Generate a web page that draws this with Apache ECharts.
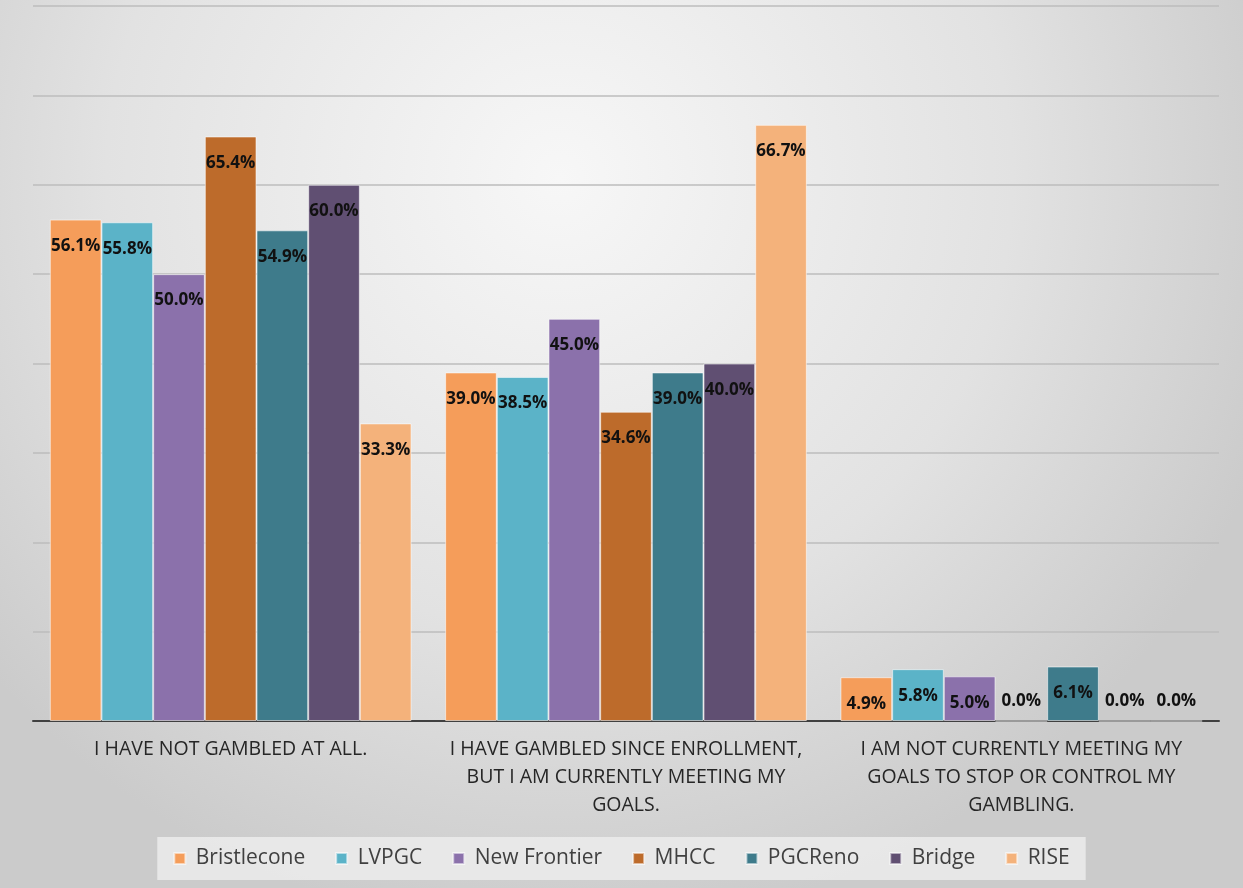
<!DOCTYPE html>
<html>
<head>
<meta charset="utf-8">
<script src="https://cdn.jsdelivr.net/npm/echarts@6/dist/echarts.min.js"></script>
<style>
html,body{margin:0;padding:0;}
#chart{width:1243px;height:888px;}
</style>
</head>
<body>
<div id="chart"></div>
<script>
const categories = [
  "I HAVE NOT GAMBLED AT ALL.",
  "I HAVE GAMBLED SINCE ENROLLMENT,\nBUT I AM CURRENTLY MEETING MY\nGOALS.",
  "I AM NOT CURRENTLY MEETING MY\nGOALS TO STOP OR CONTROL MY\nGAMBLING."
];
const seriesNames = ["Bristlecone", "LVPGC", "New Frontier", "MHCC", "PGCReno", "Bridge", "RISE"];
const bristlecone = [56.1, 39.0, 4.9];
const lvpgc = [55.8, 38.5, 5.8];
const newFrontier = [50.0, 45.0, 5.0];
const mhcc = [65.4, 34.6, 0.0];
const pgcReno = [54.9, 39.0, 6.1];
const bridge = [60.0, 40.0, 0.0];
const rise = [33.3, 66.7, 0.0];
const seriesValues = [bristlecone, lvpgc, newFrontier, mhcc, pgcReno, bridge, rise];
const colors = ["#F59D5A", "#5BB3C8", "#8B71AB", "#BD6B2B", "#3E7B8B", "#604F72", "#F4B27B"];

const chart = echarts.init(document.getElementById('chart'));
const series = seriesNames.map((name, i) => ({
  name: name,
  type: 'bar',
  barGap: '0%',
  barCategoryGap: '8.5%',
  itemStyle: { color: colors[i], borderColor: 'rgba(255,255,255,0.55)', borderWidth: 1 },
  label: {
    show: true,
    position: 'insideTop',
    distance: 18,
    formatter: p => p.value.toFixed(1) + '%',
    fontFamily: 'Open Sans',
    fontWeight: 'bold',
    fontSize: 17,
    color: '#111111'
  },
  data: seriesValues[i].map(v => v < 3 ? {
    value: v,
    label: { position: 'insideBottom', distance: 12 }
  } : v)
}));

chart.setOption({
  backgroundColor: {
    type: 'radial', x: 0.45, y: 0.2, r: 0.85,
    colorStops: [
      { offset: 0, color: '#f7f7f7' },
      { offset: 0.6, color: '#e2e2e2' },
      { offset: 1, color: '#cbcbcb' }
    ]
  },
  animation: false,
  color: colors,
  grid: { left: 33, right: 24, top: 6, bottom: 167 },
  legend: {
    bottom: 8,
    left: 'center',
    itemWidth: 11,
    itemHeight: 11,
    itemGap: 30,
    icon: 'rect',
    backgroundColor: 'rgba(236,236,236,0.85)',
    padding: [11, 16, 11, 16],
    formatter: n => ' ' + n,
    textStyle: { fontFamily: 'Open Sans', fontSize: 21, color: '#404040' },
    data: seriesNames
  },
  xAxis: {
    type: 'category',
    data: categories,
    axisLine: { lineStyle: { color: '#404040', width: 2 } },
    axisTick: { show: false },
    axisLabel: {
      fontFamily: 'Open Sans',
      fontSize: 19.5,
      color: '#262626',
      lineHeight: 28,
      margin: 14,
      interval: 0
    }
  },
  yAxis: {
    type: 'value',
    min: 0,
    max: 80,
    interval: 10,
    axisLabel: { show: false },
    axisLine: { show: false },
    axisTick: { show: false },
    splitLine: { lineStyle: { color: '#bcbcbc', width: 1.5 } }
  },
  series: series
});
</script>
</body>
</html>
